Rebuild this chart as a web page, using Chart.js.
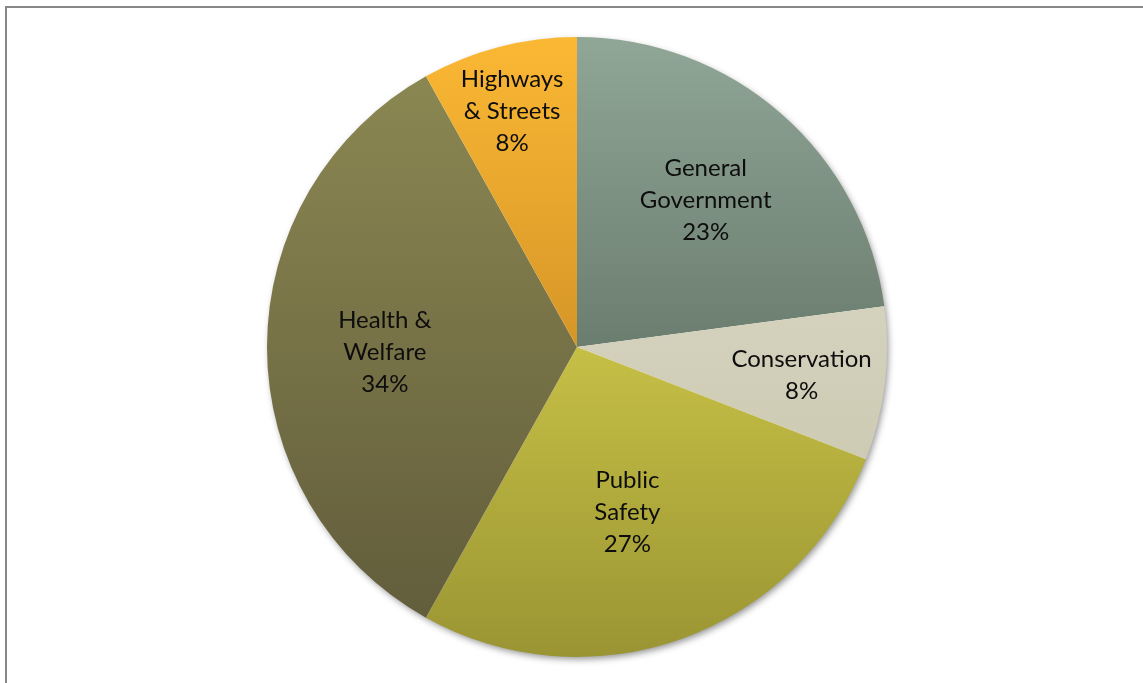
<!DOCTYPE html>
<html>
<head>
<meta charset="utf-8">
<script src="https://cdn.jsdelivr.net/npm/chart.js@4.4.0/dist/chart.umd.min.js"></script>
<style>
  html, body { margin: 0; padding: 0; background: #fff; overflow: hidden; }
  #frame { position: absolute; left: 5px; top: 6px; width: 1200px; height: 750px;
           border-top: 2px solid #888; border-left: 2px solid #888; }
  #wrap { position: absolute; left: 0; top: 0; width: 1143px; height: 683px; }
</style>
</head>
<body>
<div id="frame"></div>
<div id="wrap"><canvas id="c" width="1143" height="683"></canvas></div>
<script>
const categories = ["General Government", "Conservation", "Public Safety", "Health & Welfare", "Highways & Streets"];
const labelLines = [["General", "Government"], ["Conservation"], ["Public", "Safety"], ["Health &", "Welfare"], ["Highways", "& Streets"]];
const values = [22.9, 8.0, 27.2, 33.8, 8.1];
const topColors = ["#90a696", "#d4d2bd", "#c6bf46", "#8b8752", "#fbb834"];
const bottomColors = ["#6b7d6f", "#cecbb4", "#9a9533", "#625d3b", "#d69627"];
const labelRadius = [0.63, 0.73, 0.556, 0.62, 0.79];
const labelAngleShift = [0, 0.3, 2.8, -1.5, -0.8];

function sliceGradient(context) {
  const chart = context.chart;
  const i = context.dataIndex;
  const area = chart.chartArea;
  if (!area) return topColors[i];
  const cx = (area.left + area.right) / 2, cy = (area.top + area.bottom) / 2;
  const r = Math.min(area.right - area.left, area.bottom - area.top) / 2;
  const total = values.reduce((a, b) => a + b, 0);
  let cum = 0;
  for (let k = 0; k < i; k++) cum += values[k];
  const a0 = -Math.PI / 2 + cum / total * 2 * Math.PI;
  const a1 = a0 + values[i] / total * 2 * Math.PI;
  const ys = [cy, cy + r * Math.sin(a0), cy + r * Math.sin(a1)];
  const has = (target) => { for (let k = -2; k <= 2; k++) { const t = target + 2 * Math.PI * k; if (t >= a0 && t <= a1) return true; } return false; };
  if (has(-Math.PI / 2)) ys.push(cy - r);
  if (has(Math.PI / 2)) ys.push(cy + r);
  const y0 = Math.min(...ys), y1 = Math.max(...ys);
  const g = chart.ctx.createLinearGradient(0, y0, 0, y1);
  g.addColorStop(0, topColors[i]);
  g.addColorStop(1, bottomColors[i]);
  return g;
}

const shadowPlugin = {
  id: 'shadow',
  beforeDatasetsDraw(chart) {
    const meta = chart.getDatasetMeta(0);
    const el = meta.data[0];
    if (!el) return;
    const ctx = chart.ctx;
    ctx.save();
    ctx.shadowColor = 'rgba(0,0,0,0.45)';
    ctx.shadowBlur = 7;
    ctx.shadowOffsetX = 2;
    ctx.shadowOffsetY = 3;
    ctx.fillStyle = '#ffffff';
    ctx.beginPath();
    ctx.arc(el.x, el.y, el.outerRadius - 1, 0, Math.PI * 2);
    ctx.fill();
    ctx.restore();
  }
};

const labelPlugin = {
  id: 'sliceLabels',
  afterDatasetsDraw(chart) {
    const meta = chart.getDatasetMeta(0);
    const total = values.reduce((a, b) => a + b, 0);
    const ctx = chart.ctx;
    ctx.save();
    ctx.fillStyle = '#0d0d0d';
    ctx.font = '24px Lato';
    ctx.textAlign = 'center';
    ctx.textBaseline = 'middle';
    const lh = 32;
    meta.data.forEach((el, i) => {
      const mid = (el.startAngle + el.endAngle) / 2 + labelAngleShift[i] * Math.PI / 180;
      const rr = el.outerRadius * labelRadius[i];
      const x = el.x + rr * Math.cos(mid);
      const y = el.y + rr * Math.sin(mid);
      const lines = labelLines[i].concat([Math.round(values[i] / total * 100) + '%']);
      const startY = y - (lines.length - 1) * lh / 2;
      lines.forEach((t, j) => ctx.fillText(t, x, startY + j * lh));
    });
    ctx.restore();
  }
};

new Chart(document.getElementById('c'), {
  type: 'pie',
  data: {
    labels: categories,
    datasets: [{
      data: values,
      backgroundColor: sliceGradient,
      borderWidth: 0
    }]
  },
  options: {
    responsive: false,
    animation: false,
    layout: { padding: { top: 37, bottom: 26, left: 100, right: 89 } },
    plugins: { legend: { display: false }, tooltip: { enabled: false } }
  },
  plugins: [shadowPlugin, labelPlugin]
});
</script>
</body>
</html>
